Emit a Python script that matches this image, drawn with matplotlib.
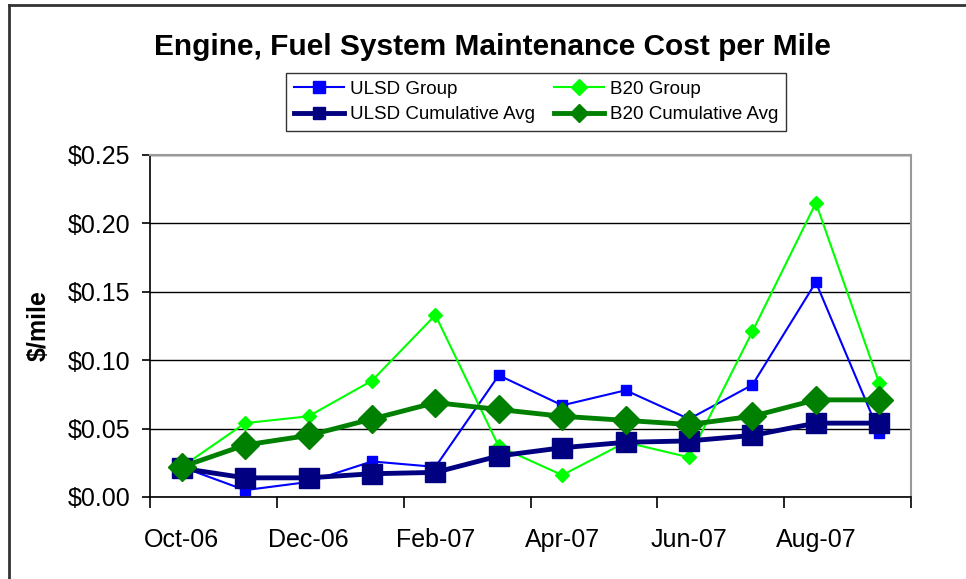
import matplotlib
matplotlib.use("Agg")
import matplotlib.pyplot as plt
from matplotlib.lines import Line2D
from matplotlib.ticker import FixedLocator, FuncFormatter

plt.rcParams['font.family'] = ['Liberation Sans', 'DejaVu Sans']

months = ["Oct-06", "Nov-06", "Dec-06", "Jan-07", "Feb-07", "Mar-07",
          "Apr-07", "May-07", "Jun-07", "Jul-07", "Aug-07", "Sep-07"]
ulsd_group = [0.022, 0.005, 0.011, 0.026, 0.022, 0.089, 0.067, 0.078, 0.057, 0.082, 0.157, 0.047]
b20_group = [0.022, 0.054, 0.059, 0.085, 0.133, 0.037, 0.016, 0.040, 0.029, 0.121, 0.215, 0.083]
ulsd_cum = [0.021, 0.014, 0.014, 0.017, 0.018, 0.030, 0.036, 0.040, 0.041, 0.045, 0.054, 0.054]
b20_cum = [0.022, 0.038, 0.045, 0.057, 0.069, 0.064, 0.059, 0.056, 0.053, 0.059, 0.071, 0.071]
yticks = [0.00, 0.05, 0.10, 0.15, 0.20, 0.25]

W, H = 966, 579
fig = plt.figure(figsize=(W / 100, H / 100), dpi=100)
ax = fig.add_axes([150 / W, 1 - 497 / H, (911 - 150) / W, (497 - 155) / H])

x = list(range(len(months)))
l1, = ax.plot(x, ulsd_group, color='#0000FF', lw=1.5, marker='s', ms=7.5, label='ULSD Group', zorder=3)
l2, = ax.plot(x, b20_group, color='#00FF00', lw=1.5, marker='D', ms=7, label='B20 Group', zorder=3)
l3, = ax.plot(x, ulsd_cum, color='#000080', lw=3.5, marker='s', ms=14, label='ULSD Cumulative Avg', zorder=4)
l4, = ax.plot(x, b20_cum, color='#008000', lw=3.5, marker='D', ms=14, label='B20 Cumulative Avg', zorder=5)

ax.set_xlim(-0.5, len(months) - 0.5)
ax.set_ylim(0, 0.25)
ax.yaxis.set_major_locator(FixedLocator(yticks))
ax.yaxis.set_major_formatter(FuncFormatter(lambda v, p: f"${v:.2f}"))
ax.grid(axis='y', color='#000000', lw=1.0, zorder=1)

# category axis: label every second month, ticks at boundaries
ax.set_xticks([i for i in x if i % 2 == 0])
ax.set_xticklabels([months[i] for i in x if i % 2 == 0])
ax.set_xticks([i - 0.5 for i in range(0, len(months) + 1, 2)], minor=True)
ax.tick_params(axis='x', which='major', length=0, pad=22, labelsize=18)
ax.tick_params(axis='x', which='minor', length=8, width=1.2, direction='out')
ax.tick_params(axis='y', length=6, width=1.2, labelsize=18, pad=8)

for s in ['top', 'right']:
    ax.spines[s].set_color('#999999')
    ax.spines[s].set_linewidth(1.5)
for s in ['left', 'bottom']:
    ax.spines[s].set_color('#000000')
    ax.spines[s].set_linewidth(1.2)

ax.set_ylabel('$/mile', fontsize=18, fontweight='bold', labelpad=12)

fig.text(492 / W, 1 - 47 / H, 'Engine, Fuel System Maintenance Cost per Mile',
         ha='center', va='center', fontsize=21.5, fontweight='bold')

leg = fig.legend(handles=[l1, l3, l2, l4], loc='center', bbox_to_anchor=(536 / W, 1 - 102 / H), ncol=2,
                 fontsize=13.5, frameon=True, fancybox=False, edgecolor='#000000',
                 handlelength=2.7, columnspacing=1.0, handletextpad=0.3,
                 borderpad=0.4, labelspacing=0.45, borderaxespad=0)
leg.get_frame().set_linewidth(1.0)
for h in leg.legend_handles:
    h.set_markersize(8 if h.get_linewidth() < 2 else 9)

# outer chart border (top and left visible)
fig.add_artist(Line2D([9 / W, 1], [1 - 5 / H, 1 - 5 / H], color='#333333', lw=2, transform=fig.transFigure))
fig.add_artist(Line2D([9 / W, 9 / W], [0, 1 - 5 / H], color='#333333', lw=2, transform=fig.transFigure))

fig.savefig('out.png', dpi=100)
